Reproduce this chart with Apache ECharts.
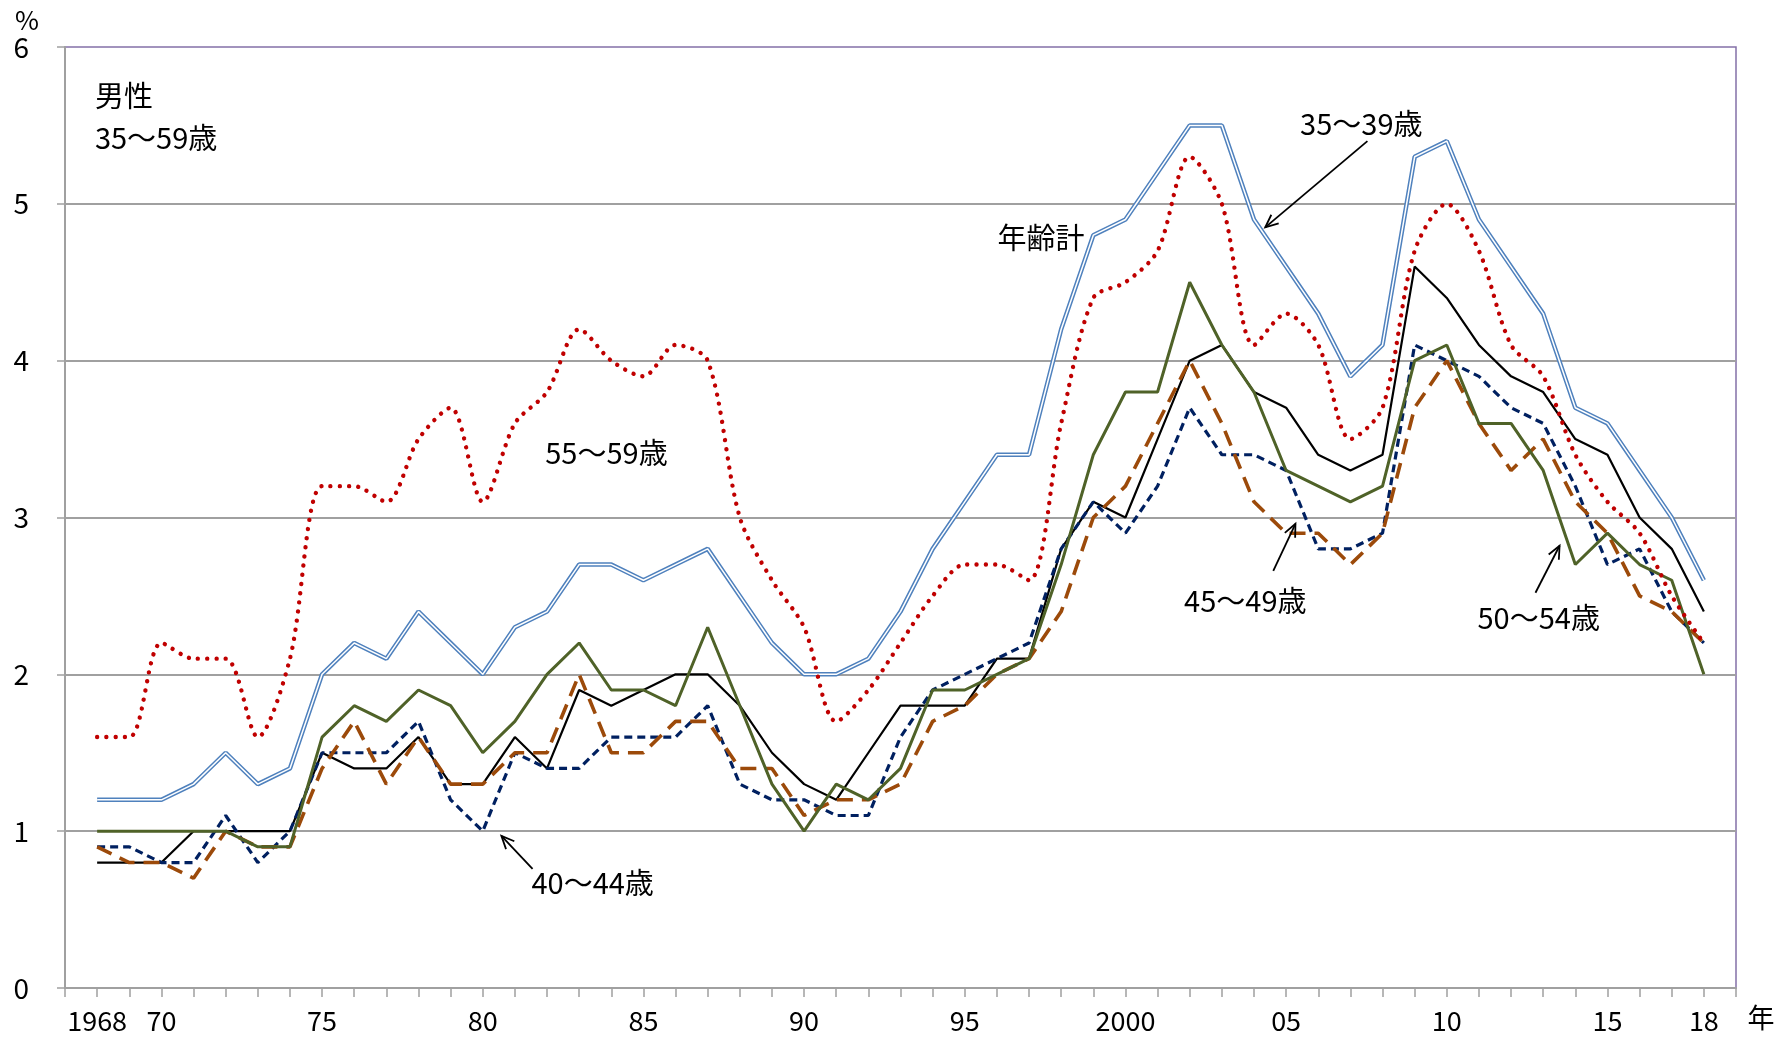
<!DOCTYPE html>
<html><head><meta charset="utf-8">
<script src="https://cdn.jsdelivr.net/npm/echarts@6/dist/echarts.min.js"></script>
<style>html,body{margin:0;padding:0;background:#fff}#c{width:1787px;height:1041px}</style>
</head><body><div id="c"></div>
<script>
// ---- data ----
const years = [1968,1969,1970,1971,1972,1973,1974,1975,1976,1977,1978,1979,
  1980,1981,1982,1983,1984,1985,1986,1987,1988,1989,
  1990,1991,1992,1993,1994,1995,1996,1997,1998,1999,
  2000,2001,2002,2003,2004,2005,2006,2007,2008,2009,
  2010,2011,2012,2013,2014,2015,2016,2017,2018];

const total = [1.2,1.2,1.2,1.3,1.5,1.3,1.4, 2.0,2.2,2.1,2.4,2.2,
  2.0,2.3,2.4,2.7,2.7, 2.6,2.7,2.8,2.5,2.2,
  2.0,2.0,2.1,2.4,2.8, 3.1,3.4,3.4,4.2,4.8,
  4.9,5.2,5.5,5.5,4.9, 4.6,4.3,3.9,4.1,5.3,
  5.4,4.9,4.6,4.3,3.7, 3.6,3.3,3.0,2.6];

const age35_39 = [0.8,0.8,0.8,1.0,1.0,1.0,1.0, 1.5,1.4,1.4,1.6,1.3,
  1.3,1.6,1.4,1.9,1.8, 1.9,2.0,2.0,1.8,1.5,
  1.3,1.2,1.5,1.8,1.8, 1.8,2.1,2.1,2.8,3.1,
  3.0,3.5,4.0,4.1,3.8, 3.7,3.4,3.3,3.4,4.6,
  4.4,4.1,3.9,3.8,3.5, 3.4,3.0,2.8,2.4];

const age40_44 = [0.9,0.9,0.8,0.8,1.1,0.8,1.0, 1.5,1.5,1.5,1.7,1.2,
  1.0,1.5,1.4,1.4,1.6, 1.6,1.6,1.8,1.3,1.2,
  1.2,1.1,1.1,1.6,1.9, 2.0,2.1,2.2,2.8,3.1,
  2.9,3.2,3.7,3.4,3.4, 3.3,2.8,2.8,2.9,4.1,
  4.0,3.9,3.7,3.6,3.2, 2.7,2.8,2.4,2.2];

const age45_49 = [0.9,0.8,0.8,0.7,1.0,0.9,0.9, 1.4,1.7,1.3,1.6,1.3,
  1.3,1.5,1.5,2.0,1.5, 1.5,1.7,1.7,1.4,1.4,
  1.1,1.2,1.2,1.3,1.7, 1.8,2.0,2.1,2.4,3.0,
  3.2,3.6,4.0,3.6,3.1, 2.9,2.9,2.7,2.9,3.7,
  4.0,3.6,3.3,3.5,3.1, 2.9,2.5,2.4,2.2];

const age50_54 = [1.0,1.0,1.0,1.0,1.0,0.9,0.9, 1.6,1.8,1.7,1.9,1.8,
  1.5,1.7,2.0,2.2,1.9, 1.9,1.8,2.3,1.8,1.3,
  1.0,1.3,1.2,1.4,1.9, 1.9,2.0,2.1,2.7,3.4,
  3.8,3.8,4.5,4.1,3.8, 3.3,3.2,3.1,3.2,4.0,
  4.1,3.6,3.6,3.3,2.7, 2.9,2.7,2.6,2.0];

const age55_59 = [1.6,1.6,2.2,2.1,2.1,1.6,2.1, 3.2,3.2,3.1,3.5,3.7,
  3.1,3.6,3.8,4.2,4.0, 3.9,4.1,4.0,3.0,2.6,
  2.3,1.7,1.9,2.2,2.5, 2.7,2.7,2.6,3.6,4.4,
  4.5,4.7,5.3,5.0,4.1, 4.3,4.1,3.5,3.7,4.7,
  5.0,4.7,4.1,3.9,3.4, 3.1,2.9,2.5,2.2];

const labelYears = [1968,1970,1975,1980,1985,1990,1995,2000,2005,2010,2015,2018];
const labelTexts = ['1968','70','75','80','85','90','95','2000','05','10','15','18'];
const yTicks = [0,1,2,3,4,5,6];

// annotations in data coordinates (year, %)
const notes = [
  {text:'男性', x:1967.93, y:5.69, align:'left'},
  {text:'35～59歳', x:1967.93, y:5.42, align:'left'},
  {text:'年齢計', x:1997.37, y:4.78, align:'center'},
  {text:'35～39歳', x:2007.34, y:5.51, align:'center'},
  {text:'55～59歳', x:1983.85, y:3.41, align:'center'},
  {text:'40～44歳', x:1983.42, y:0.67, align:'center'},
  {text:'45～49歳', x:2003.73, y:2.47, align:'center'},
  {text:'50～54歳', x:2012.86, y:2.36, align:'center'}
];
const arrows = [
  {from:[2007.53,5.40], to:[2004.35,4.85]},
  {from:[1981.55,0.76], to:[1980.58,0.97]},
  {from:[2004.60,2.66], to:[2005.29,2.96]},
  {from:[2012.76,2.52], to:[2013.51,2.82]}
];

// ---- chart ----
const FONT = "'Noto Sans CJK JP','Noto Sans',sans-serif";
const pair = arr => years.map((y,i)=>[y, arr[i]]);
const chart = echarts.init(document.getElementById('c'), null, {renderer:'canvas'});
const labelMap = {};
labelYears.forEach((y,i)=>labelMap[y]=labelTexts[i]);

const gridCol = '#A0A0A0';
chart.setOption({
  animation:false,
  backgroundColor:'#fff',
  grid:{left:65,right:51,top:47,bottom:53,show:true,borderColor:'#8470A8',borderWidth:1.5,backgroundColor:'transparent'},
  xAxis:{type:'value',min:1967,max:2019,interval:1,
    axisLine:{show:true,onZero:false,lineStyle:{color:gridCol,width:2}},
    axisTick:{show:true,inside:false,length:9,lineStyle:{color:gridCol,width:1.5}},
    splitLine:{show:false},
    axisLabel:{margin:19,fontSize:27,color:'#000',fontFamily:FONT,showMinLabel:true,showMaxLabel:true,
      formatter:v=>labelMap[Math.round(v)]||''}
  },
  yAxis:{type:'value',min:yTicks[0],max:yTicks[yTicks.length-1],interval:1,
    axisLine:{show:true,lineStyle:{color:gridCol,width:2}},
    axisTick:{show:true,inside:false,length:8,lineStyle:{color:gridCol,width:1.5}},
    splitLine:{show:true,lineStyle:{color:[gridCol,gridCol,gridCol,gridCol,gridCol,gridCol,'rgba(0,0,0,0)'],width:2}},
    axisLabel:{margin:36,fontSize:28,color:'#000',fontFamily:FONT}
  },
  series:[
    {name:'年齢計',type:'line',data:pair(total),showSymbol:false,z:2,
      lineStyle:{color:'#4F81BD',width:4.5}},
    {name:'年齢計_inner',type:'line',data:pair(total),showSymbol:false,z:2,
      lineStyle:{color:'#fff',width:1.5}},
    {name:'35～39歳',type:'line',data:pair(age35_39),showSymbol:false,z:3,
      lineStyle:{color:'#000',width:2.2}},
    {name:'40～44歳',type:'line',data:pair(age40_44),showSymbol:false,z:3,
      lineStyle:{color:'#002060',width:3.2,type:[8,5]}},
    {name:'45～49歳',type:'line',data:pair(age45_49),showSymbol:false,z:3,
      lineStyle:{color:'#9C4A0A',width:3.6,type:[16,9]}},
    {name:'50～54歳',type:'line',data:pair(age50_54),showSymbol:false,z:3,
      lineStyle:{color:'#4F6228',width:3}},
    {name:'55～59歳',type:'line',data:pair(age55_59),showSymbol:false,z:3,smooth:0.3,
      lineStyle:{color:'#C00000',width:4.4,type:[0.01,9.2],cap:'round'}}
  ]
});

function drawNotes(){
  const els = [];
  notes.forEach(n=>{
    const p = chart.convertToPixel({gridIndex:0},[n.x,n.y]);
    els.push({type:'text',x:p[0],y:p[1],z:10,style:{text:n.text,fontSize:29,fontFamily:FONT,fill:'#000',
      align:n.align,verticalAlign:'middle'}});
  });
  arrows.forEach(a=>{
    const p0 = chart.convertToPixel({gridIndex:0},a.from);
    const p1 = chart.convertToPixel({gridIndex:0},a.to);
    const ang = Math.atan2(p1[1]-p0[1], p1[0]-p0[0]);
    const L = 14, s = 0.42;
    const h1 = [p1[0]-L*Math.cos(ang-s), p1[1]-L*Math.sin(ang-s)];
    const h2 = [p1[0]-L*Math.cos(ang+s), p1[1]-L*Math.sin(ang+s)];
    els.push({type:'polyline',z:10,shape:{points:[p0,p1]},style:{stroke:'#000',lineWidth:1.8,fill:null}});
    els.push({type:'polyline',z:10,shape:{points:[h1,p1,h2]},style:{stroke:'#000',lineWidth:1.8,fill:null}});
  });
  // unit labels
  els.push({type:'text',x:27,y:20,z:10,style:{text:'%',fontSize:26,fontFamily:FONT,fill:'#000',align:'center',verticalAlign:'middle'}});
  const py = chart.convertToPixel({gridIndex:0},[2019,0]);
  els.push({type:'text',x:py[0]+25,y:py[1]+30,z:10,style:{text:'年',fontSize:27,fontFamily:FONT,fill:'#000',align:'center',verticalAlign:'middle'}});
  chart.setOption({graphic:{elements:els}});
}
drawNotes();
</script>
</body></html>
